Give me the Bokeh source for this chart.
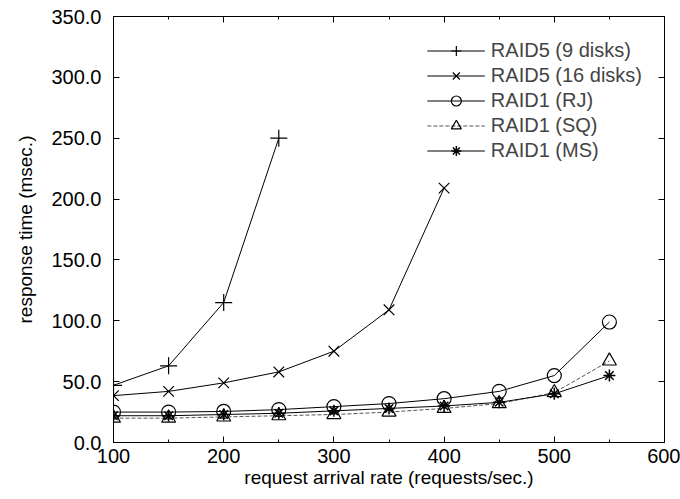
from bokeh.plotting import figure
from bokeh.models import FixedTicker, LinearAxis, Legend, LegendItem, CustomJSTickFormatter, Range1d
from bokeh.embed import file_html
from bokeh.resources import INLINE

rate = [100, 150, 200, 250, 300, 350, 400, 450, 500, 550]
raid5_9 = [47, 63, 115, 250]
raid5_16 = [38.5, 42, 49, 58, 75, 109, 209]
raid1_rj = [25, 25, 25.5, 27, 29.5, 32, 36, 42, 55, 99]
raid1_sq = [20, 20, 21, 22, 23, 25, 28, 32, 41, 67]
raid1_ms = [22, 22, 23, 24, 26, 28, 30, 33, 40, 55]
x_ticks = [100, 200, 300, 400, 500, 600]
x_minor = [150, 250, 350, 450, 550]
y_ticks = [0, 50, 100, 150, 200, 250, 300, 350]

FONT = "Liberation Sans"

p = figure(width=680, height=499, output_backend="svg", toolbar_location=None,
           x_range=Range1d(100, 600), y_range=Range1d(0, 350),
           min_border_left=113, min_border_right=16, min_border_top=16, min_border_bottom=57)
p.grid.visible = False
p.outline_line_color = "black"
p.outline_line_width = 1
p.background_fill_color = "white"
p.border_fill_color = "white"

for ax in [p.xaxis[0], p.yaxis[0]]:
    ax.major_tick_in = 6
    ax.major_tick_out = 0
    ax.minor_tick_in = 3
    ax.minor_tick_out = 0
    ax.axis_line_color = "black"
    ax.major_label_text_font = FONT
    ax.major_label_text_font_size = "20px"
    ax.major_label_text_color = "black"
    ax.axis_label_text_font = FONT
    ax.axis_label_text_font_size = "19px"
    ax.axis_label_text_font_style = "normal"
    ax.axis_label_text_color = "black"

p.xaxis.ticker = FixedTicker(ticks=x_ticks, minor_ticks=x_minor)
p.yaxis.ticker = FixedTicker(ticks=y_ticks, minor_ticks=[])
p.yaxis.formatter = CustomJSTickFormatter(code="return tick.toFixed(1);")
p.xaxis.axis_label = "request arrival rate (requests/sec.)"
p.yaxis.axis_label = "response time (msec.)"
p.xaxis.major_label_standoff = 6
p.yaxis.major_label_standoff = 12
p.xaxis.axis_label_standoff = 1
p.yaxis.axis_label_standoff = 12

blank = CustomJSTickFormatter(code="return '';")
top = LinearAxis(ticker=FixedTicker(ticks=x_ticks, minor_ticks=x_minor), formatter=blank,
                 major_tick_in=6, major_tick_out=0, minor_tick_in=3, minor_tick_out=0,
                 axis_line_color=None, major_label_standoff=0)
right = LinearAxis(ticker=FixedTicker(ticks=y_ticks, minor_ticks=[]), formatter=blank,
                   major_tick_in=6, major_tick_out=0, minor_tick_in=0, minor_tick_out=0,
                   axis_line_color=None, major_label_standoff=0)
p.add_layout(top, "above")
p.add_layout(right, "right")

items = []
l1 = p.line(rate[:4], raid5_9, line_color="black", line_width=1)
m1 = p.scatter(rate[:4], raid5_9, marker="cross", size=17, line_color="black", line_width=1.2)
items.append(LegendItem(label="RAID5 (9 disks)", renderers=[l1, m1]))

l2 = p.line(rate[:7], raid5_16, line_color="black", line_width=1)
m2 = p.scatter(rate[:7], raid5_16, marker="x", size=15, line_color="black", line_width=1.2)
items.append(LegendItem(label="RAID5 (16 disks)", renderers=[l2, m2]))

l3 = p.line(rate, raid1_rj, line_color="black", line_width=1)
m3 = p.scatter(rate, raid1_rj, marker="circle", size=14, line_color="black", fill_color=None, line_width=1.2)
items.append(LegendItem(label="RAID1 (RJ)", renderers=[l3, m3]))

l4 = p.line(rate, raid1_sq, line_color="#555555", line_width=1, line_dash="4 2")
m4 = p.scatter(rate, raid1_sq, marker="triangle", size=14, line_color="black", fill_color=None, line_width=1.2)
items.append(LegendItem(label="RAID1 (SQ)", renderers=[l4, m4]))

l5 = p.line(rate, raid1_ms, line_color="black", line_width=1)
m5 = p.scatter(rate, raid1_ms, marker="asterisk", size=12, line_color="black", line_width=1.5)
items.append(LegendItem(label="RAID1 (MS)", renderers=[l5, m5]))

legend = Legend(items=items, location="top_right", border_line_color=None,
                background_fill_alpha=0, label_text_font=FONT, label_text_font_size="20px",
                glyph_width=58, glyph_height=25, label_height=25, spacing=0, padding=0,
                margin=22, label_standoff=6)
p.add_layout(legend, "center")

open("out.html", "w").write(file_html(p, INLINE))
